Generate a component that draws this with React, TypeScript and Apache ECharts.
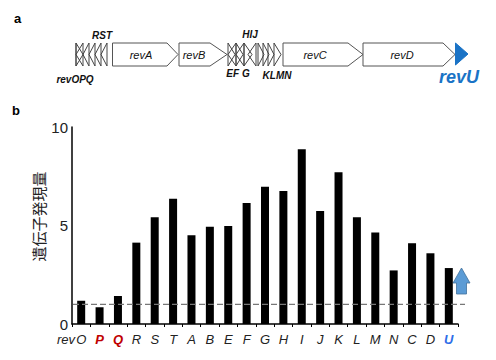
import React, { useEffect, useRef } from "react";
import * as echarts from "echarts";

const categories = ["O", "P", "Q", "R", "S", "T", "A", "B", "E", "F", "G", "H", "I", "J", "K", "L", "M", "N", "C", "D", "U"];
const values = [1.18, 0.85, 1.42, 4.13, 5.42, 6.36, 4.5, 4.94, 4.97, 6.14, 6.97, 6.75, 8.87, 5.74, 7.7, 5.42, 4.65, 2.72, 4.1, 3.59, 2.84];
const redCats = ["P", "Q"];
const blueCats = ["U"];
const baseline = 1;
const yTicks = [0, 5, 10];

const FONT = "Liberation Sans, Arial, sans-serif";
const yt = 43, yb = 66, yc = 54.5;

function bigGene(x0: number, xb: number, xt: number) {
  return {
    type: "polygon",
    shape: { points: [[x0, yt], [xb, yt], [xt, yc], [xb, yb], [x0, yb]] },
    style: { fill: "#fff", stroke: "#555", lineWidth: 1 },
  };
}
function smallGene(base: number, tip: number) {
  return {
    type: "polygon",
    shape: { points: [[base, yt], [tip, yc], [base, yb]] },
    style: { fill: "none", stroke: "#444", lineWidth: 1 },
  };
}
function label(text: string, x: number, y: number, size = 11, extra: any = {}) {
  return {
    type: "text",
    x,
    y,
    style: {
      text,
      fontFamily: FONT,
      fontSize: size,
      fontStyle: "italic",
      fill: "#111",
      align: "center",
      verticalAlign: "middle",
      ...extra,
    },
  };
}

export default function App() {
  const ref = useRef<HTMLDivElement>(null);
  useEffect(() => {
    if (!ref.current) return;
    const chart = echarts.init(ref.current, undefined, { renderer: "svg" });
    const smallLeft = [[76, 83], [83, 76], [89, 83], [95, 89], [101, 95], [107, 101]];
    const smallMid = [[228, 235], [236, 228], [236, 243], [244, 236], [244, 252], [256, 248], [258, 264], [263, 269], [268, 274], [274, 281]];
    const graphics: any[] = [
      { type: "text", x: 14, y: 18, style: { text: "a", fontFamily: FONT, fontSize: 13, fontWeight: "bold", fill: "#000", verticalAlign: "middle" } },
      { type: "text", x: 12, y: 110, style: { text: "b", fontFamily: FONT, fontSize: 13, fontWeight: "bold", fill: "#000", verticalAlign: "middle" } },
      ...smallLeft.map(([b, t]) => smallGene(b, t)),
      { type: "line", shape: { x1: 76, y1: yt, x2: 76, y2: yb }, style: { stroke: "#444", lineWidth: 1 } },
      bigGene(112.5, 167, 178),
      bigGene(179, 210, 227),
      ...smallMid.map(([b, t]) => smallGene(b, t)),
      bigGene(283, 348, 363),
      bigGene(363, 443, 455),
      { type: "polygon", shape: { points: [[455.5, 43], [468, 54], [455.5, 65]] }, style: { fill: "#1a73c6", stroke: "#1a73c6" } },
      label("revA", 141, 55),
      label("revB", 194, 55),
      label("revC", 315, 55),
      label("revD", 402, 55),
      label("RST", 102, 35, 10, { fontWeight: "bold" }),
      label("revOPQ", 75, 79, 10, { fontWeight: "bold" }),
      label("HIJ", 250, 34, 10, { fontWeight: "bold" }),
      label("EF G", 238, 73, 10, { fontWeight: "bold" }),
      label("KLMN", 277, 75, 10, { fontWeight: "bold" }),
      label("revU", 459, 77, 18, { fontWeight: "bold", fill: "#1a73c6" }),
      label("rev", 75, 339, 13, { align: "right", fill: "#222" }),
      {
        type: "polygon",
        shape: { points: [[461.5, 268], [470, 283], [466.5, 283], [466.5, 294], [456.5, 294], [456.5, 283], [453, 283]] },
        style: { fill: "#5b9bd5", stroke: "#41719c", lineWidth: 0.8 },
      },
    ];
    const option: any = {
      animation: false,
      textStyle: { fontFamily: FONT },
      grid: { left: 72, right: 38, top: 127, bottom: 36 },
      xAxis: {
        type: "category",
        data: categories,
        axisLine: { lineStyle: { color: "#000", width: 1.5 } },
        axisTick: { show: true, length: 3, lineStyle: { color: "#000", width: 1 } },
        axisLabel: {
          margin: 9,
          interval: 0,
          formatter: (v: string) => (redCats.includes(v) ? `{r|${v}}` : blueCats.includes(v) ? `{b|${v}}` : `{n|${v}}`),
          rich: {
            n: { fontSize: 13, fontStyle: "italic", color: "#222", fontFamily: FONT },
            r: { fontSize: 13, fontStyle: "italic", fontWeight: "bold", color: "#c00000", fontFamily: FONT },
            b: { fontSize: 13, fontStyle: "italic", fontWeight: "bold", color: "#2f6ee8", fontFamily: FONT },
          },
        },
      },
      yAxis: {
        type: "value",
        min: yTicks[0],
        max: yTicks[yTicks.length - 1],
        interval: 5,
        name: "遺伝子発現量",
        nameLocation: "middle",
        nameGap: 26,
        nameMoveOverlap: false,
        nameTextStyle: { fontSize: 15, color: "#222", fontFamily: "Noto Sans CJK JP", padding: [0, 0, 0, 18] },
        axisLine: { show: true, lineStyle: { color: "#000", width: 1.5 } },
        axisTick: { show: false },
        splitLine: { show: false },
        axisLabel: { fontSize: 15, color: "#222", margin: 4 },
      },
      series: [
        {
          type: "bar",
          data: values,
          barWidth: 8,
          itemStyle: { color: "#000" },
        },
      ],
      graphic: graphics,
    };
    chart.setOption(option);
    const by = chart.convertToPixel({ yAxisIndex: 0 }, baseline) as number;
    chart.setOption({
      graphic: [
        ...graphics,
        {
          type: "line",
          z: 10,
          shape: { x1: 73, y1: by, x2: 465, y2: by },
          style: { stroke: "#777", lineWidth: 1.2, lineDash: [6, 3] },
        },
      ],
    });
    return () => chart.dispose();
  }, []);
  return <div ref={ref} style={{ position: "fixed", left: 0, top: 0, width: 496, height: 360, background: "#fff" }} />;
}
